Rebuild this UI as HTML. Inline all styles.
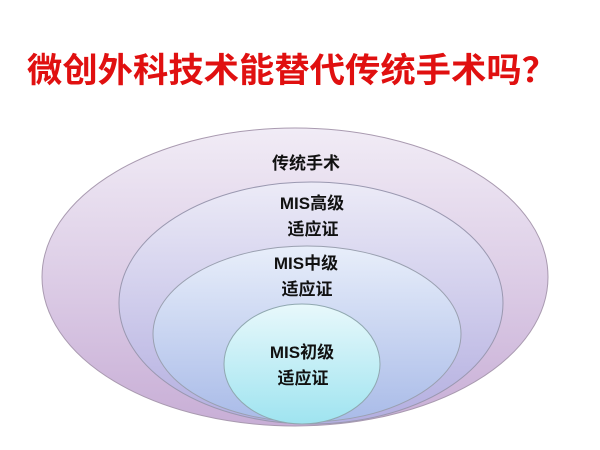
<!DOCTYPE html>
<html><head><meta charset="utf-8"><style>
html,body{margin:0;padding:0;background:#fff;width:600px;height:450px;overflow:hidden}
</style></head><body>
<svg width="600" height="450" xmlns="http://www.w3.org/2000/svg" style="font-family:'Liberation Sans','Noto Sans CJK SC',sans-serif">
<defs>
<linearGradient id="g1" x1="0" y1="0" x2="0" y2="1"><stop offset="0" stop-color="#f1ecf6"/><stop offset="1" stop-color="#c8aed6"/></linearGradient>
<linearGradient id="g2" x1="0" y1="0" x2="0" y2="1"><stop offset="0" stop-color="#ecebf7"/><stop offset="1" stop-color="#b3aee0"/></linearGradient>
<linearGradient id="g3" x1="0" y1="0" x2="0" y2="1"><stop offset="0" stop-color="#e8eefa"/><stop offset="1" stop-color="#a9bbe8"/></linearGradient>
<linearGradient id="g4" x1="0" y1="0" x2="0" y2="1"><stop offset="0" stop-color="#e8f8fb"/><stop offset="1" stop-color="#9fe4f0"/></linearGradient>
</defs>
<text x="27" y="82" font-size="34" font-weight="bold" fill="#e01010" textLength="530" lengthAdjust="spacingAndGlyphs">微创外科技术能替代传统手术吗？</text>
<ellipse cx="295" cy="277" rx="253" ry="149" fill="url(#g1)" stroke="#a99ab0" stroke-width="1"/>
<ellipse cx="311" cy="303" rx="192" ry="121" fill="url(#g2)" stroke="#9a98b0" stroke-width="1"/>
<ellipse cx="307" cy="334" rx="154" ry="88" fill="url(#g3)" stroke="#9aa0b0" stroke-width="1"/>
<ellipse cx="302" cy="364" rx="78" ry="60" fill="url(#g4)" stroke="#90a8b0" stroke-width="1"/>
<g font-size="17" font-weight="bold" fill="#111" text-anchor="middle">
<text x="306" y="169">传统手术</text>
<text x="312" y="209">MIS高级</text>
<text x="313" y="235">适应证</text>
<text x="306" y="269">MIS中级</text>
<text x="307" y="295">适应证</text>
<text x="302" y="358">MIS初级</text>
<text x="303" y="384">适应证</text>
</g>
</svg>
</body></html>
